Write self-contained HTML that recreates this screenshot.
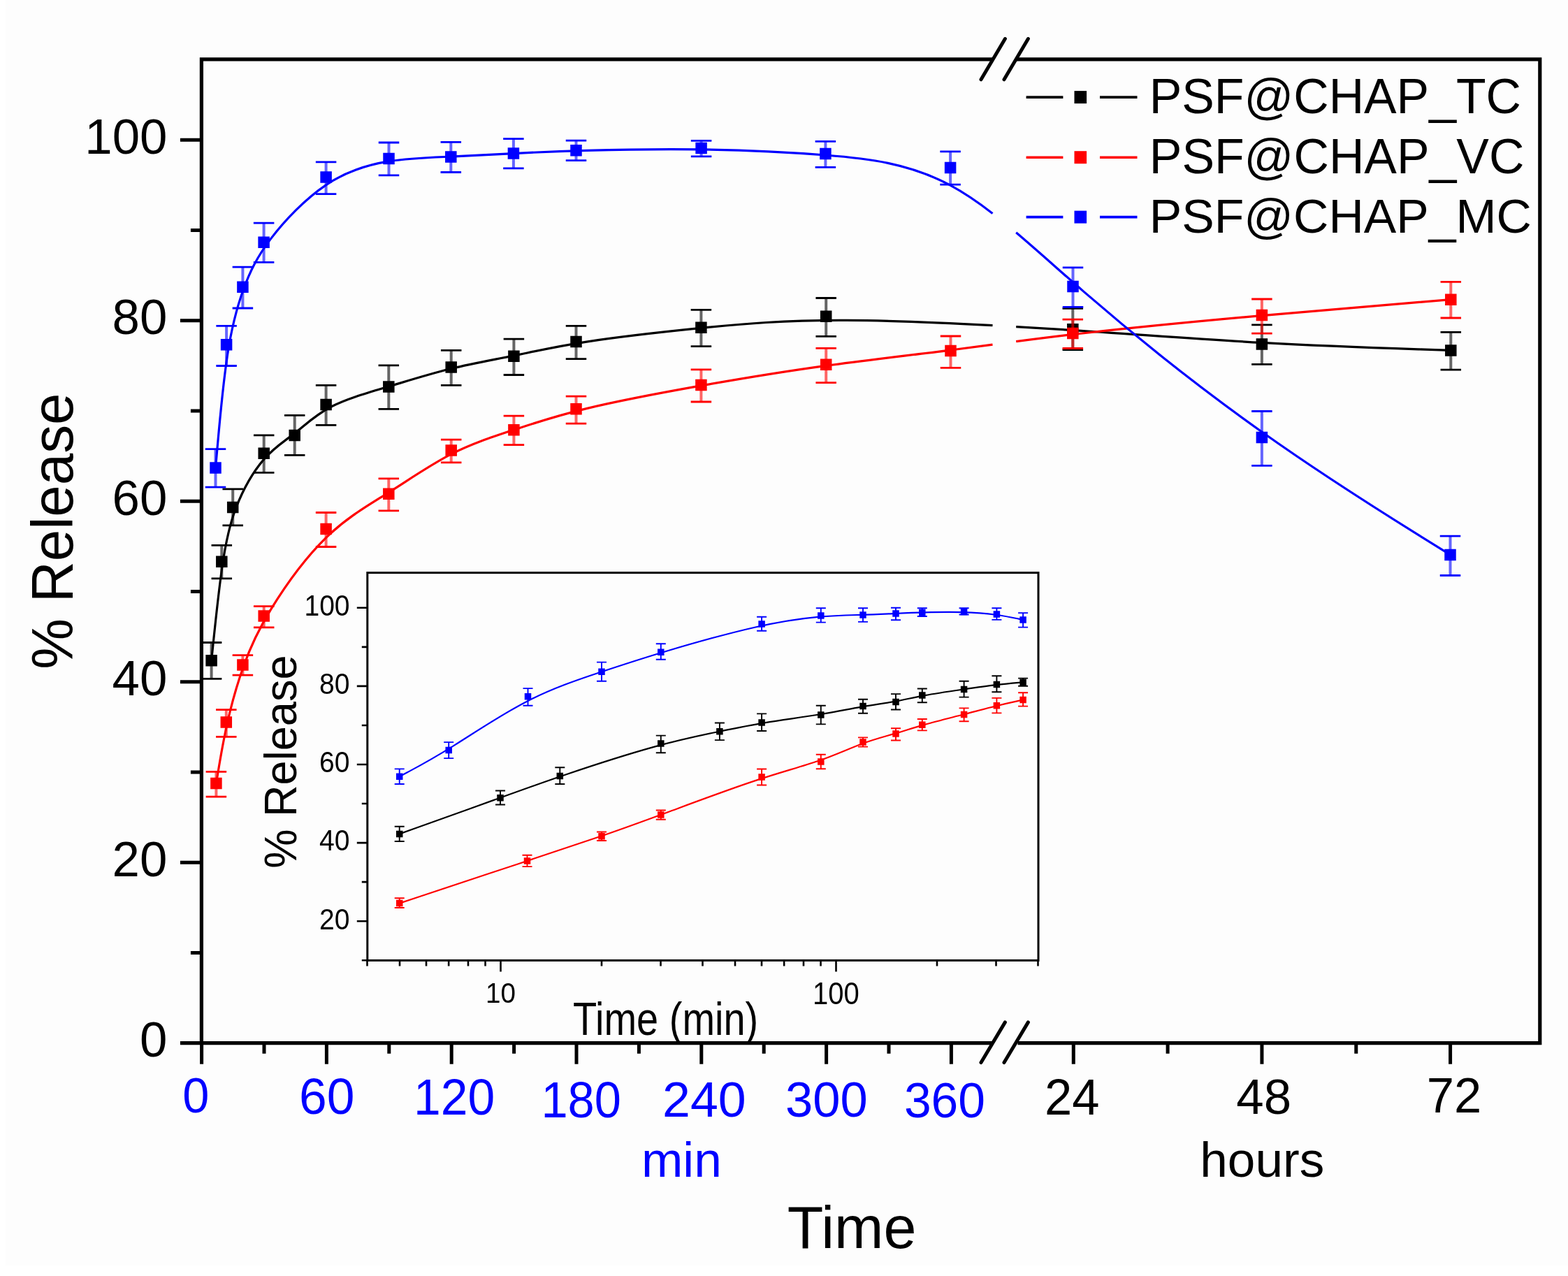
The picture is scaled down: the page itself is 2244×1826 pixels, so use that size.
<!DOCTYPE html>
<html><head><meta charset="utf-8"><title>Release profile</title>
<style>html,body{margin:0;padding:0;background:#fff;}svg{display:block;}</style>
</head><body>
<svg width="2244" height="1826" viewBox="0 0 2244 1826" font-family='"Liberation Sans", Arial, Helvetica, sans-serif'>
<rect x="0" y="0" width="2244" height="1826" fill="#ffffff"/>
<rect x="8" y="0" width="2236" height="1811" fill="#fdfdfd"/>
<path d="M302.6 945.3C302.6 945.3 302.6 945.3 305.05 921.7C307.5 898.1 312.4 850.9 317.5 814.37C322.6 777.83 327.9 751.97 337.97 726.15C348.03 700.33 362.87 674.57 377.62 657.37C392.37 640.17 407.03 631.53 421.85 619.88C436.67 608.23 451.63 593.57 474.07 582.02C496.5 570.47 526.4 562.03 556.25 553.13C586.1 544.23 615.9 534.87 645.75 527.57C675.6 520.27 705.5 515.03 735.3 508.95C765.1 502.87 794.8 495.93 839.47 489.08C884.13 482.23 943.77 475.47 1003.38 469.42C1063 463.37 1122.6 458.03 1211.25 458.45C1271.96 458.74 1346.29 461.72 1420.5 465.7M1454.2 467.57C1476.99 468.88 1499.58 470.26 1521.55 471.67C1625.5 478.3 1715.7 485.4 1805.87 490.43C1896.03 495.47 1986.17 498.43 2031.23 499.92C2076.3 501.4 2076.3 501.4 2076.3 501.4" fill="none" stroke="#000000" stroke-width="3.2" stroke-linejoin="round" stroke-linecap="butt"/>
<path d="M302.6 919.5V971.4M317.3 780.4V827.9M333.2 699.8V751.9M377.7 622.9V676.4M421.7 594.3V651.4M466.6 551.3V608.3M556.3 522.9V585.3M645.7 501.4V551.4M735.4 485.2V536.5M824.5 466.4V513.7M1003.4 443.3V495.6M1182.2 426.5V481.3M1535.3 441.4V500.5M1805.9 464.8V521.3M2076.3 475.4V529.2" fill="none" stroke="#000000" stroke-width="4" stroke-opacity="0.6"/>
<path d="M287.85 919.5H317.35M287.85 971.4H317.35M302.55 780.4H332.05M302.55 827.9H332.05M318.45 699.8H347.95M318.45 751.9H347.95M362.95 622.9H392.45M362.95 676.4H392.45M406.95 594.3H436.45M406.95 651.4H436.45M451.85 551.3H481.35M451.85 608.3H481.35M541.55 522.9H571.05M541.55 585.3H571.05M630.95 501.4H660.45M630.95 551.4H660.45M720.65 485.2H750.15M720.65 536.5H750.15M809.75 466.4H839.25M809.75 513.7H839.25M988.65 443.3H1018.15M988.65 495.6H1018.15M1167.45 426.5H1196.95M1167.45 481.3H1196.95M1520.55 441.4H1550.05M1520.55 500.5H1550.05M1791.15 464.8H1820.65M1791.15 521.3H1820.65M2061.55 475.4H2091.05M2061.55 529.2H2091.05" fill="none" stroke="#000000" stroke-width="2.8"/>
<path d="M294.35 937.05h16.5v16.5h-16.5zM309.05 795.45h16.5v16.5h-16.5zM324.95 717.85h16.5v16.5h-16.5zM369.45 640.55h16.5v16.5h-16.5zM413.45 614.65h16.5v16.5h-16.5zM458.35 570.65h16.5v16.5h-16.5zM548.05 545.35h16.5v16.5h-16.5zM637.45 517.25h16.5v16.5h-16.5zM727.15 501.55h16.5v16.5h-16.5zM816.25 480.75h16.5v16.5h-16.5zM995.15 460.45h16.5v16.5h-16.5zM1173.95 444.45h16.5v16.5h-16.5zM1527.05 462.95h16.5v16.5h-16.5zM1797.65 484.25h16.5v16.5h-16.5zM2068.05 493.15h16.5v16.5h-16.5z" fill="#000000"/>
<path d="M309.4 1121.1C309.4 1121.1 309.4 1121.1 311.8 1106.52C314.2 1091.93 319 1062.77 325.33 1034.5C331.67 1006.23 339.53 978.87 348.52 953.52C357.5 928.17 367.6 904.83 387.47 872.43C407.33 840.03 436.97 798.57 466.73 769.45C496.5 740.33 526.4 723.57 556.25 704.78C586.1 686 615.9 665.2 645.75 649.95C675.6 634.7 705.5 625 735.3 615.15C765.1 605.3 794.8 595.3 839.47 584.6C884.13 573.9 943.77 562.5 1003.38 551.92C1063 541.33 1122.6 531.57 1182.12 523.37C1241.63 515.17 1301.07 508.53 1359.92 501.05C1379.96 498.5 1399.94 495.85 1420.5 493.14M1454.2 488.7C1484.12 484.8 1515.88 480.79 1551.27 476.75C1625.5 468.27 1715.7 459.63 1805.87 451.6C1896.03 443.57 1986.17 436.13 2031.23 432.42C2076.3 428.7 2076.3 428.7 2076.3 428.7" fill="none" stroke="#ff0000" stroke-width="3.2" stroke-linejoin="round" stroke-linecap="butt"/>
<path d="M309.4 1104.4V1140.1M323.8 1015.7V1054.3M347.4 937.7V966.2M377.7 867.7V897.9M466.6 733.5V782.5M556.3 684.9V730.9M645.7 629.1V661.9M735.4 595.2V636.7M824.5 567.1V606.1M1003.4 528.9V575M1182.2 498.4V547.6M1360.5 481V526.3M1535.3 457.1V498.5M1805.9 428V477.2M2076.3 403.4V455" fill="none" stroke="#ff0000" stroke-width="4" stroke-opacity="0.6"/>
<path d="M294.65 1104.4H324.15M294.65 1140.1H324.15M309.05 1015.7H338.55M309.05 1054.3H338.55M332.65 937.7H362.15M332.65 966.2H362.15M362.95 867.7H392.45M362.95 897.9H392.45M451.85 733.5H481.35M451.85 782.5H481.35M541.55 684.9H571.05M541.55 730.9H571.05M630.95 629.1H660.45M630.95 661.9H660.45M720.65 595.2H750.15M720.65 636.7H750.15M809.75 567.1H839.25M809.75 606.1H839.25M988.65 528.9H1018.15M988.65 575H1018.15M1167.45 498.4H1196.95M1167.45 547.6H1196.95M1345.75 481H1375.25M1345.75 526.3H1375.25M1520.55 457.1H1550.05M1520.55 498.5H1550.05M1791.15 428H1820.65M1791.15 477.2H1820.65M2061.55 403.4H2091.05M2061.55 455H2091.05" fill="none" stroke="#ff0000" stroke-width="2.8"/>
<path d="M301.15 1112.85h16.5v16.5h-16.5zM315.55 1025.35h16.5v16.5h-16.5zM339.15 943.25h16.5v16.5h-16.5zM369.45 873.25h16.5v16.5h-16.5zM458.35 748.85h16.5v16.5h-16.5zM548.05 698.55h16.5v16.5h-16.5zM637.45 636.15h16.5v16.5h-16.5zM727.15 607.05h16.5v16.5h-16.5zM816.25 577.05h16.5v16.5h-16.5zM995.15 542.85h16.5v16.5h-16.5zM1173.95 513.55h16.5v16.5h-16.5zM1352.25 493.65h16.5v16.5h-16.5zM1527.05 468.65h16.5v16.5h-16.5zM1797.65 442.75h16.5v16.5h-16.5zM2068.05 420.45h16.5v16.5h-16.5z" fill="#ff0000"/>
<path d="M308.5 669.5C308.5 669.5 308.5 669.5 311.1 640.12C313.7 610.73 318.9 551.97 325.38 508.83C331.87 465.7 339.63 438.2 348.55 413.8C357.47 389.4 367.53 368.1 387.4 341.88C407.27 315.67 436.93 284.53 466.75 264.55C496.57 244.57 526.53 235.73 556.32 230.93C586.1 226.13 615.7 225.37 645.43 224.12C675.17 222.87 705.03 221.13 734.9 219.57C764.77 218 794.63 216.6 839.42 215.37C884.2 214.13 943.9 213.07 1003.38 213.87C1062.87 214.67 1122.13 217.33 1181.55 221.98C1240.97 226.63 1300.53 233.27 1359.55 264.93C1379.71 275.75 1399.81 289.49 1420.5 305.46M1454.2 332.81C1484.17 358.1 1515.96 387.01 1551.33 417.65C1625.63 482 1715.77 554 1805.77 617.98C1895.77 681.97 1985.63 737.93 2030.57 765.92C2075.5 793.9 2075.5 793.9 2075.5 793.9" fill="none" stroke="#0000ff" stroke-width="3.2" stroke-linejoin="round" stroke-linecap="butt"/>
<path d="M308.5 642.7V697.2M324.1 466.4V523.5M347.4 382.2V441M377.6 319.1V375.3M466.6 231.8V277.6M556.5 204V250.9M645.3 203.4V246.5M734.9 198.7V240.9M824.5 201.2V229.7M1003.6 201.3V223.9M1181.4 202.3V239.4M1360.1 216.9V264.2M1535.5 382.9V439.4M1805.9 588.5V666.3M2075.5 767.2V823.5" fill="none" stroke="#0000ff" stroke-width="4" stroke-opacity="0.6"/>
<path d="M293.75 642.7H323.25M293.75 697.2H323.25M309.35 466.4H338.85M309.35 523.5H338.85M332.65 382.2H362.15M332.65 441H362.15M362.85 319.1H392.35M362.85 375.3H392.35M451.85 231.8H481.35M451.85 277.6H481.35M541.75 204H571.25M541.75 250.9H571.25M630.55 203.4H660.05M630.55 246.5H660.05M720.15 198.7H749.65M720.15 240.9H749.65M809.75 201.2H839.25M809.75 229.7H839.25M988.85 201.3H1018.35M988.85 223.9H1018.35M1166.65 202.3H1196.15M1166.65 239.4H1196.15M1345.35 216.9H1374.85M1345.35 264.2H1374.85M1520.75 382.9H1550.25M1520.75 439.4H1550.25M1791.15 588.5H1820.65M1791.15 666.3H1820.65M2060.75 767.2H2090.25M2060.75 823.5H2090.25" fill="none" stroke="#0000ff" stroke-width="2.8"/>
<path d="M300.25 661.25h16.5v16.5h-16.5zM315.85 484.95h16.5v16.5h-16.5zM339.15 402.45h16.5v16.5h-16.5zM369.35 338.55h16.5v16.5h-16.5zM458.35 245.15h16.5v16.5h-16.5zM548.25 218.65h16.5v16.5h-16.5zM637.05 216.35h16.5v16.5h-16.5zM726.65 211.15h16.5v16.5h-16.5zM816.25 206.95h16.5v16.5h-16.5zM995.35 203.75h16.5v16.5h-16.5zM1173.15 211.75h16.5v16.5h-16.5zM1351.85 231.65h16.5v16.5h-16.5zM1527.25 401.75h16.5v16.5h-16.5zM1797.65 617.75h16.5v16.5h-16.5zM2067.25 785.65h16.5v16.5h-16.5z" fill="#0000ff"/>
<path d="M288.4 82.2V1495.3M285.8 84.8H1421M1455 84.8H2206.4M2203.8 82.2V1495.3M257.9 1492.7H1419.5M1456.5 1492.7H2206.4" fill="none" stroke="#000" stroke-width="5.2"/>
<path d="M272.9 1363.45H288.4M257.9 1234.2H288.4M272.9 1104.95H288.4M257.9 975.7H288.4M272.9 846.45H288.4M257.9 717.2H288.4M272.9 587.95H288.4M257.9 458.7H288.4M272.9 329.45H288.4M257.9 200.2H288.4M288.6 1492.7V1522.7M378 1492.7V1507.7M467.4 1492.7V1522.7M556.8 1492.7V1507.7M646.2 1492.7V1522.7M735.6 1492.7V1507.7M825 1492.7V1522.7M914.4 1492.7V1507.7M1003.8 1492.7V1522.7M1093.2 1492.7V1507.7M1182.6 1492.7V1522.7M1272 1492.7V1507.7M1361.4 1492.7V1522.7M1536.3 1492.7V1522.7M1671.12 1492.7V1507.7M1805.94 1492.7V1522.7M1940.76 1492.7V1507.7M2075.58 1492.7V1522.7" fill="none" stroke="#000" stroke-width="5"/>
<path d="M1404 1520.5L1438.4 1462.9M1437 1520.5L1471.4 1462.9M1404 113.8L1438.4 55.5M1437 113.8L1471.4 55.5" fill="none" stroke="#000" stroke-width="5" stroke-linecap="round"/>
<path d="M1468.6 139.1H1521.4M1574 139.1H1627.5" stroke="#000000" stroke-width="3.6"/>
<rect x="1537.5" y="130.1" width="17.6" height="18" fill="#000000"/>
<path d="M1468.6 225.2H1521.4M1574 225.2H1627.5" stroke="#ff0000" stroke-width="3.6"/>
<rect x="1537.5" y="216.2" width="17.6" height="18" fill="#ff0000"/>
<path d="M1468.6 310.6H1521.4M1574 310.6H1627.5" stroke="#0000ff" stroke-width="3.6"/>
<rect x="1537.5" y="301.6" width="17.6" height="18" fill="#0000ff"/>
<text x="1644.82" y="161.8" font-size="70.14" textLength="532.11" lengthAdjust="spacingAndGlyphs">PSF@CHAP_TC</text>
<text x="1644.81" y="248.1" font-size="69.57" textLength="536.6" lengthAdjust="spacingAndGlyphs">PSF@CHAP_VC</text>
<text x="1644.82" y="332.8" font-size="68.84" textLength="547.11" lengthAdjust="spacingAndGlyphs">PSF@CHAP_MC</text>
<text x="121.3" y="219.8" font-size="70.8">100</text>
<text x="160.59" y="478.3" font-size="70.8">80</text>
<text x="160.59" y="736.8" font-size="70.8">60</text>
<text x="160.59" y="995.3" font-size="70.8">40</text>
<text x="160.59" y="1253.8" font-size="70.8">20</text>
<text x="199.88" y="1512.3" font-size="70.8">0</text>
<text x="261.16" y="1591.89" font-size="71.27" fill="#0000ff" textLength="38.12" lengthAdjust="spacingAndGlyphs">0</text>
<text x="428.02" y="1594.49" font-size="71.41" fill="#0000ff">60</text>
<text x="592.08" y="1595.37" font-size="72.68" fill="#0000ff" textLength="116.1" lengthAdjust="spacingAndGlyphs">120</text>
<text x="774.45" y="1598.98" font-size="71.55" fill="#0000ff" textLength="114.49" lengthAdjust="spacingAndGlyphs">180</text>
<text x="948.01" y="1597.59" font-size="70.56" fill="#0000ff" textLength="119.65" lengthAdjust="spacingAndGlyphs">240</text>
<text x="1123.91" y="1597.59" font-size="70.56" fill="#0000ff">300</text>
<text x="1293.91" y="1599" font-size="69.58" fill="#0000ff">360</text>
<text x="1495.07" y="1595.4" font-size="71.57" fill="#000000" textLength="78.51" lengthAdjust="spacingAndGlyphs">24</text>
<text x="1769.28" y="1594.29" font-size="70.85" fill="#000000">48</text>
<text x="2041.68" y="1591.5" font-size="70.57" fill="#000000">72</text>
<text x="917.97" y="1684.1" font-size="70" fill="#0000ff" textLength="114.87" lengthAdjust="spacingAndGlyphs">min</text>
<text x="1717.22" y="1683.8" font-size="70" fill="#000000" textLength="178.09" lengthAdjust="spacingAndGlyphs">hours</text>
<text x="1126.81" y="1785.56" font-size="84.5" fill="#000000">Time</text>
<text transform="translate(103.9 957.66) rotate(-90)" x="0" y="0" font-size="83.96" fill="#000000" textLength="395.12" lengthAdjust="spacingAndGlyphs">% Release</text>
<path d="M571.7 1193.4C571.7 1193.4 571.7 1193.4 595.75 1184.78C619.8 1176.17 667.9 1158.93 706.17 1145.12C744.43 1131.3 772.87 1120.9 811.17 1107.95C849.47 1095 897.63 1079.5 935.73 1068.88C973.83 1058.27 1001.87 1052.53 1025.92 1047.53C1049.97 1042.53 1070.03 1038.27 1094.18 1034.3C1118.33 1030.33 1146.57 1026.67 1170.72 1022.75C1194.87 1018.83 1214.93 1014.67 1232.8 1011.57C1250.67 1008.47 1266.33 1006.43 1280.47 1003.85C1294.6 1001.27 1307.2 998.13 1323.47 995.13C1339.73 992.13 1359.67 989.27 1377.43 986.7C1395.2 984.13 1410.8 981.87 1424.88 980.18C1438.97 978.5 1451.53 977.4 1457.82 976.85C1464.1 976.3 1464.1 976.3 1464.1 976.3" fill="none" stroke="#000000" stroke-width="2.2" stroke-linejoin="round"/>
<path d="M571.7 1182.7V1204M564.7 1182.7H578.7M564.7 1204H578.7M716 1131.5V1151.5M709 1131.5H723M709 1151.5H723M801.3 1098.2V1122M794.3 1098.2H808.3M794.3 1122H808.3M945.8 1052.6V1077.2M938.8 1052.6H952.8M938.8 1077.2H952.8M1029.9 1034.5V1059.1M1022.9 1034.5H1036.9M1022.9 1059.1H1036.9M1090.1 1021.4V1046M1083.1 1021.4H1097.1M1083.1 1046H1097.1M1174.8 1009.8V1036.4M1167.8 1009.8H1181.8M1167.8 1036.4H1181.8M1235 1000.7V1020.8M1228 1000.7H1242M1228 1020.8H1242M1282 993.1V1015.5M1275 993.1H1289M1275 1015.5H1289M1319.8 985.5V1005.2M1312.8 985.5H1326.8M1312.8 1005.2H1326.8M1379.6 974.7V997.6M1372.6 974.7H1386.6M1372.6 997.6H1386.6M1426.4 967.3V990.3M1419.4 967.3H1433.4M1419.4 990.3H1433.4M1464.1 970.6V981.7M1457.1 970.6H1471.1M1457.1 981.7H1471.1" fill="none" stroke="#000000" stroke-width="1.9"/>
<path d="M566.95 1188.65h9.5v9.5h-9.5zM711.25 1136.95h9.5v9.5h-9.5zM796.55 1105.75h9.5v9.5h-9.5zM941.05 1059.25h9.5v9.5h-9.5zM1025.15 1042.05h9.5v9.5h-9.5zM1085.35 1029.25h9.5v9.5h-9.5zM1170.05 1018.25h9.5v9.5h-9.5zM1230.25 1005.75h9.5v9.5h-9.5zM1277.25 999.65h9.5v9.5h-9.5zM1315.05 990.25h9.5v9.5h-9.5zM1374.85 981.65h9.5v9.5h-9.5zM1421.65 974.85h9.5v9.5h-9.5zM1459.35 971.55h9.5v9.5h-9.5z" fill="#000000"/>
<path d="M571.7 1292.6C571.7 1292.6 571.7 1292.6 602.17 1282.48C632.63 1272.37 693.57 1252.13 741.78 1236.17C790 1220.2 825.5 1208.5 857.38 1197.53C889.27 1186.57 917.53 1176.33 955.72 1162.2C993.9 1148.07 1042 1130.03 1080.17 1117.35C1118.33 1104.67 1146.57 1097.33 1170.72 1089C1194.87 1080.67 1214.93 1071.33 1232.8 1064.67C1250.67 1058 1266.33 1054 1280.47 1049.87C1294.6 1045.73 1307.2 1041.47 1323.47 1036.87C1339.73 1032.27 1359.67 1027.33 1377.43 1022.75C1395.2 1018.17 1410.8 1013.93 1424.88 1010.45C1438.97 1006.97 1451.53 1004.23 1457.82 1002.87C1464.1 1001.5 1464.1 1001.5 1464.1 1001.5" fill="none" stroke="#ff0000" stroke-width="2.2" stroke-linejoin="round"/>
<path d="M571.7 1285.2V1299M564.7 1285.2H578.7M564.7 1299H578.7M754.5 1223.7V1240.1M747.5 1223.7H761.5M747.5 1240.1H761.5M861 1190.5V1203M854 1190.5H868M854 1203H868M945.8 1159.5V1172.7M938.8 1159.5H952.8M938.8 1172.7H952.8M1090.1 1100.5V1123.5M1083.1 1100.5H1097.1M1083.1 1123.5H1097.1M1174.8 1079.8V1100.3M1167.8 1079.8H1181.8M1167.8 1100.3H1181.8M1235 1055.4V1068.6M1228 1055.4H1242M1228 1068.6H1242M1282 1042.3V1059.5M1275 1042.3H1289M1275 1059.5H1289M1319.8 1029V1045.4M1312.8 1029H1326.8M1312.8 1045.4H1326.8M1379.6 1013.4V1032.3M1372.6 1013.4H1386.6M1372.6 1032.3H1386.6M1426.4 998.9V1020.4M1419.4 998.9H1433.4M1419.4 1020.4H1433.4M1464.1 991.3V1010.6M1457.1 991.3H1471.1M1457.1 1010.6H1471.1" fill="none" stroke="#ff0000" stroke-width="1.9"/>
<path d="M566.95 1287.85h9.5v9.5h-9.5zM749.75 1227.15h9.5v9.5h-9.5zM856.25 1192.05h9.5v9.5h-9.5zM941.05 1161.35h9.5v9.5h-9.5zM1085.35 1107.25h9.5v9.5h-9.5zM1170.05 1085.25h9.5v9.5h-9.5zM1230.25 1057.25h9.5v9.5h-9.5zM1277.25 1045.25h9.5v9.5h-9.5zM1315.05 1032.45h9.5v9.5h-9.5zM1374.85 1017.65h9.5v9.5h-9.5zM1421.65 1004.95h9.5v9.5h-9.5zM1459.35 996.75h9.5v9.5h-9.5z" fill="#ff0000"/>
<path d="M571.7 1111.3C571.7 1111.3 571.7 1111.3 583.45 1105.02C595.2 1098.73 618.7 1086.17 649.33 1067.08C679.97 1048 717.73 1022.4 754.2 1003.67C790.67 984.93 825.83 973.07 857.55 962.48C889.27 951.9 917.53 942.6 955.72 931.23C993.9 919.87 1042 906.43 1080.17 897.72C1118.33 889 1146.57 885 1170.72 882.83C1194.87 880.67 1214.93 880.33 1232.8 879.82C1250.67 879.3 1266.33 878.6 1280.47 877.98C1294.6 877.37 1307.2 876.83 1323.47 876.42C1339.73 876 1359.67 875.7 1377.43 876.15C1395.2 876.6 1410.8 877.8 1424.88 879.72C1438.97 881.63 1451.53 884.27 1457.82 885.58C1464.1 886.9 1464.1 886.9 1464.1 886.9" fill="none" stroke="#0000ff" stroke-width="2.2" stroke-linejoin="round"/>
<path d="M571.7 1100.4V1122M564.7 1100.4H578.7M564.7 1122H578.7M642.2 1062.1V1085.1M635.2 1062.1H649.2M635.2 1085.1H649.2M755.5 985.1V1009.7M748.5 985.1H762.5M748.5 1009.7H762.5M861 947.6V974.7M854 947.6H868M854 974.7H868M945.8 921.3V943.8M938.8 921.3H952.8M938.8 943.8H952.8M1090.1 882.8V902.8M1083.1 882.8H1097.1M1083.1 902.8H1097.1M1174.8 870.3V890.6M1167.8 870.3H1181.8M1167.8 890.6H1181.8M1235 870.2V889.9M1228 870.2H1242M1228 889.9H1242M1282 869.7V887.3M1275 869.7H1289M1275 887.3H1289M1319.8 870.2V882M1312.8 870.2H1326.8M1312.8 882H1326.8M1379.6 870.2V879.5M1372.6 870.2H1386.6M1372.6 879.5H1386.6M1426.4 870.2V886.9M1419.4 870.2H1433.4M1419.4 886.9H1433.4M1464.1 877.1V897.6M1457.1 877.1H1471.1M1457.1 897.6H1471.1" fill="none" stroke="#0000ff" stroke-width="1.9"/>
<path d="M566.95 1106.55h9.5v9.5h-9.5zM637.45 1068.85h9.5v9.5h-9.5zM750.75 992.05h9.5v9.5h-9.5zM856.25 956.45h9.5v9.5h-9.5zM941.05 928.55h9.5v9.5h-9.5zM1085.35 888.25h9.5v9.5h-9.5zM1170.05 876.25h9.5v9.5h-9.5zM1230.25 875.25h9.5v9.5h-9.5zM1277.25 873.15h9.5v9.5h-9.5zM1315.05 871.55h9.5v9.5h-9.5zM1374.85 870.65h9.5v9.5h-9.5zM1421.65 874.25h9.5v9.5h-9.5zM1459.35 882.15h9.5v9.5h-9.5z" fill="#0000ff"/>
<rect x="525.8" y="819.6" width="960.2" height="554.8" fill="none" stroke="#000" stroke-width="3"/>
<path d="M517.8 1374.25H525.8M510.8 1318.2H525.8M517.8 1262.15H525.8M510.8 1206.1H525.8M517.8 1150.05H525.8M510.8 1094H525.8M517.8 1037.95H525.8M510.8 981.9H525.8M517.8 925.85H525.8M510.8 869.8H525.8M525.49 1374.4V1382.4M572.01 1374.4V1382.4M610.01 1374.4V1382.4M642.15 1374.4V1382.4M669.98 1374.4V1382.4M694.54 1374.4V1382.4M716.5 1374.4V1390.4M860.99 1374.4V1382.4M945.52 1374.4V1382.4M1005.49 1374.4V1382.4M1052.01 1374.4V1382.4M1090.01 1374.4V1382.4M1122.15 1374.4V1382.4M1149.98 1374.4V1382.4M1174.54 1374.4V1382.4M1196.5 1374.4V1390.4M1340.99 1374.4V1382.4M1425.52 1374.4V1382.4M1485.49 1374.4V1382.4" fill="none" stroke="#000" stroke-width="2.6"/>
<text x="435.43" y="881.1" font-size="42" textLength="65.17" lengthAdjust="spacingAndGlyphs">100</text>
<text x="457.11" y="993.2" font-size="42" textLength="43.45" lengthAdjust="spacingAndGlyphs">80</text>
<text x="457.11" y="1105.3" font-size="42" textLength="43.45" lengthAdjust="spacingAndGlyphs">60</text>
<text x="457.11" y="1217.4" font-size="42" textLength="43.45" lengthAdjust="spacingAndGlyphs">40</text>
<text x="457.11" y="1329.5" font-size="42" textLength="43.45" lengthAdjust="spacingAndGlyphs">20</text>
<text x="695.11" y="1435.49" font-size="41.27" fill="#000000" textLength="42.94" lengthAdjust="spacingAndGlyphs">10</text>
<text x="1162.9" y="1436.55" font-size="44.65" fill="#000000" textLength="66.74" lengthAdjust="spacingAndGlyphs">100</text>
<text x="819.98" y="1481.3" font-size="67.25" textLength="265.18" lengthAdjust="spacingAndGlyphs">Time (min)</text>
<text transform="translate(423.5 1242.81) rotate(-90)" x="0" y="0" font-size="64.73" fill="#000000" textLength="305.52" lengthAdjust="spacingAndGlyphs">% Release</text>
</svg>
</body></html>
